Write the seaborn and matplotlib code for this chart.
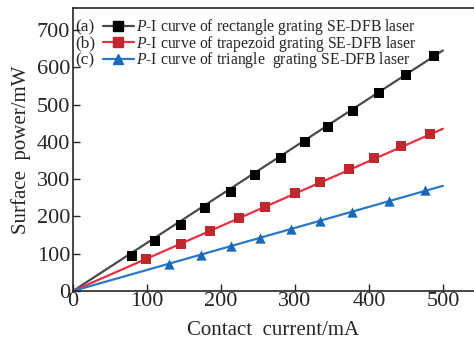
import numpy as np
import pandas as pd
import matplotlib
matplotlib.use("Agg")
import matplotlib.pyplot as plt
from matplotlib.lines import Line2D
import seaborn as sns

rect_i = [80, 111, 146, 178, 213, 246, 281, 314, 345, 378, 413, 450, 488]
rect_p = [95, 133, 178, 222, 266, 311, 356, 400, 441, 483, 530, 580, 630]
trap_i = [99, 146, 185, 224, 259, 300, 334, 373, 407, 443, 482]
trap_p = [85, 125, 162, 195, 225, 262, 293, 327, 357, 390, 422]
tri_i = [130, 173, 213, 253, 294, 334, 377, 427, 476]
tri_p = [72, 97, 120, 142, 165, 188, 213, 242, 270]

# fitted line end points (start at origin, end at 500 mA)
line_i = [0, 500]
rect_line = [0, 645]
trap_line = [0, 435]
tri_line = [0, 282]

labels = ["rectangle grating SE-DFB laser",
          "trapezoid grating SE-DFB laser",
          "triangle  grating SE-DFB laser"]
tags = ["(a)", "(b)", "(c)"]

sns.set_style("ticks")
plt.rcParams["font.family"] = ["Liberation Serif", "DejaVu Serif"]
plt.rcParams["mathtext.fontset"] = "custom"
plt.rcParams["mathtext.it"] = "Liberation Serif:italic"
plt.rcParams["mathtext.rm"] = "Liberation Serif"

fig = plt.figure(figsize=(4.74, 3.46), dpi=100)
ax = fig.add_axes([0.154, 0.159, 0.846, 0.818])

series = [
    (rect_i, rect_p, rect_line, "#4a4a4a", "#000000", "s"),
    (trap_i, trap_p, trap_line, "#e8303f", "#c1272d", "s"),
    (tri_i, tri_p, tri_line, "#2a78c8", "#1a68b8", "^"),
]

handles = []
for xi, yp, yl, lc, mc, mk in series:
    sns.lineplot(x=line_i, y=yl, ax=ax, color=lc, linewidth=1.6)
    sns.scatterplot(x=xi, y=yp, ax=ax, color=mc, marker=mk, s=55,
                    edgecolor=mc, linewidth=0, zorder=3)
    handles.append(Line2D([], [], color=lc, linewidth=1.6, marker=mk,
                          markersize=7, markerfacecolor=mc, markeredgecolor=mc))

leg = ax.legend(handles, ["$\\it{P}$-I curve of " + l for l in labels],
                loc="upper left", bbox_to_anchor=(0.058, 0.99), frameon=False,
                fontsize=11.3, handlelength=2.0, handletextpad=0.15,
                labelspacing=-0.22, borderaxespad=0)

ax.set_xlim(0, 542)
ax.set_ylim(0, 759)
ax.set_xticks([0, 100, 200, 300, 400, 500])
ax.set_yticks([0, 100, 200, 300, 400, 500, 600, 700])
ax.tick_params(direction="in", labelsize=16, length=5, width=1, pad=2)
ax.tick_params(axis="x", pad=1)
ax.set_xlabel("Contact  current/mA", fontsize=15, labelpad=7)
ax.set_ylabel("Surface  power/mW", fontsize=15, labelpad=4)
for s in ["left", "bottom", "top"]:
    ax.spines[s].set_linewidth(1.2)
ax.spines["right"].set_visible(False)

# put the (a)/(b)/(c) tags in front of each legend row
fig.canvas.draw()
inv = ax.transAxes.inverted()
for t, txt in zip(tags, leg.get_texts()):
    bb = txt.get_window_extent()
    yc = inv.transform((0, (bb.y0 + bb.y1) / 2))[1]
    ax.text(0.005, yc, t, transform=ax.transAxes, fontsize=12.5,
            va="center", ha="left")

fig.savefig("out.png", dpi=100)
